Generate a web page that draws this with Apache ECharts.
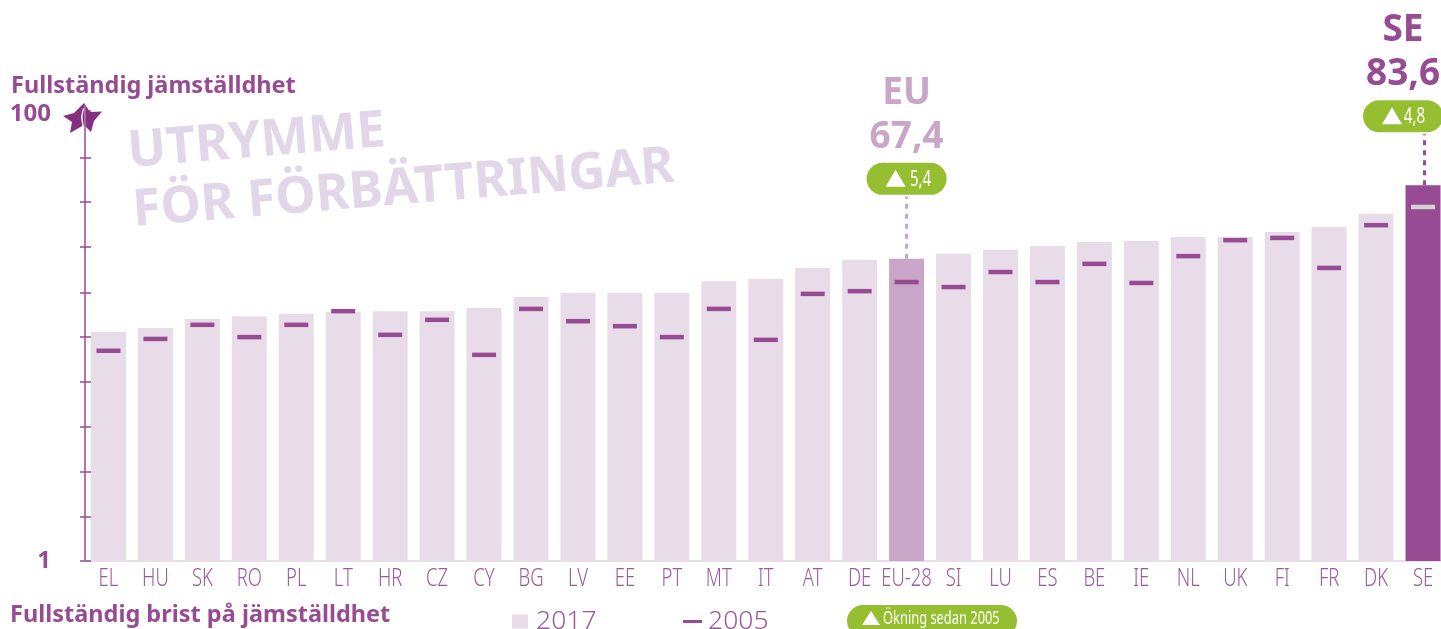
<!DOCTYPE html>
<html><head><meta charset="utf-8">
<style>html,body{margin:0;padding:0;background:#fff;overflow:hidden;width:1441px;height:629px}#c{width:1447px;height:629px}</style>
<script src="https://cdn.jsdelivr.net/npm/echarts@6/dist/echarts.min.js"></script>
</head><body><div id="c"></div>
<script>
const categories = ['EL','HU','SK','RO','PL','LT','HR','CZ','CY','BG','LV','EE','PT','MT','IT','AT','DE','EU-28','SI','LU','ES','BE','IE','NL','UK','FI','FR','DK','SE'];
const values2017 = [51.3,52.2,54.2,54.8,55.3,55.7,55.9,55.9,56.6,59.0,59.9,59.9,59.9,62.5,63.0,65.4,67.2,67.4,68.5,69.4,70.2,71.1,71.3,72.2,72.2,73.3,74.4,77.3,83.6];
const values2005 = [47.2,49.8,52.9,50.2,52.9,55.9,50.7,54.0,46.3,56.4,53.7,52.6,50.2,56.4,49.6,59.7,60.3,62.3,61.2,64.5,62.3,66.3,62.1,68.0,71.5,72.0,65.4,74.8,78.8];
const callouts = [['EU-28',67.4,'EU','67,4','5,4'],['SE',83.6,'SE','83,6','4,8']];
const yTickValues = [1,10.7,20.6,30.4,40.3,50.3,60.05,70.1,80,89.6,100];
const yLabelValues = [1,100];

const DARK='#964b92', MID='#c9a5c7', LIGHT='#e9dce9', GREEN='#95bf30', TXT='#9a5a9a', WM='#e2d6e9';
const SANS='"Noto Sans"';
const calloutLayout = {
  'EU': {color:MID, dx:0,   pill:-80, title:-165, value:-121, lineX:0,   txt:14},
  'SE': {color:DARK,dx:-20, pill:-69, title:-155, value:-111, lineX:1.5, txt:11.5}
};
function renderCallout(params, api){
  const p = api.coord([api.value(0), api.value(1)]);
  const d = callouts[params.dataIndex];
  const L = calloutLayout[d[2]];
  const cx = p[0]+L.dx, py = p[1]+L.pill;
  return {type:'group',silent:true,children:[
    {type:'line',shape:{x1:p[0]+L.lineX,y1:p[1],x2:p[0]+L.lineX,y2:py+18},style:{stroke:L.color,lineWidth:3,lineDash:[5,5]}},
    {type:'rect',shape:{x:cx-40,y:py-16,width:80,height:32,r:16},style:{fill:GREEN}},
    {type:'polygon',shape:{points:[[cx-21,py+8],[cx-1,py+8],[cx-11,py-9]]},style:{fill:'#fff'}},
    {type:'text',x:cx+L.txt,y:py+1,scaleX:0.72,style:{text:d[4],fill:'#fff',font:'400 21px '+SANS,align:'center',verticalAlign:'middle'}},
    {type:'text',style:{x:cx,y:p[1]+L.title,text:d[2],fill:L.color,font:'bold 37px '+SANS,align:'center',verticalAlign:'middle'}},
    {type:'text',style:{x:cx,y:p[1]+L.value,text:d[3],fill:L.color,font:'bold 37px '+SANS,align:'center',verticalAlign:'middle'}}
  ]};
}
function renderCatLabel(params, api){
  const p = api.coord([api.value(0), 1]);
  return {type:'text',silent:true,x:p[0],y:p[1]+18,scaleX:0.71,
    style:{text:categories[params.dataIndex],fill:TXT,font:'300 26px '+SANS,align:'center',verticalAlign:'middle'}};
}
const barData = values2017.map((v,i)=>{
  const n=categories[i];
  return n==='EU-28'?{value:v,itemStyle:{color:MID}}:n==='SE'?{value:v,itemStyle:{color:DARK}}:v;
});
const markData = values2005.map((v,i)=>categories[i]==='SE'?{value:v,itemStyle:{color:'#d2d2d2'}}:v);

const chart = echarts.init(document.getElementById('c'),null,{renderer:'canvas'});
chart.setOption({
  animation:false,
  backgroundColor:'#fff',
  grid:{left:85,right:0.5,top:110.5,bottom:68,containLabel:false},
  xAxis:{type:'category',data:categories,
    axisLine:{show:true,lineStyle:{color:'#e6dfe6',width:2}},axisTick:{show:false},
    axisLabel:{show:false}},
  yAxis:[
    {type:'value',position:'left',min:1,max:100,splitLine:{show:false},
     axisLine:{show:true,onZero:false,lineStyle:{color:DARK,width:1.5}},
     axisTick:{show:true,customValues:yTickValues,length:5,lineStyle:{color:DARK,width:1.5}},
     axisLabel:{show:true,customValues:yLabelValues,color:DARK,fontFamily:SANS,fontWeight:'bold',fontSize:24,margin:34,
       formatter:v=>v===100?'{t|100}':'{b|'+v+'}',
       rich:{t:{color:DARK,fontFamily:SANS,fontWeight:'bold',fontSize:24,padding:[7,0,0,0]},
             b:{color:DARK,fontFamily:SANS,fontWeight:'bold',fontSize:24}}}},
    {type:'value',position:'left',min:1,max:100,splitLine:{show:false},
     axisLine:{show:false},
     axisTick:{show:true,inside:true,customValues:yTickValues,length:6,lineStyle:{color:DARK,width:1.5}},
     axisLabel:{show:false}}
  ],
  legend:[
    {data:['2017'],left:507,top:603,icon:'rect',itemWidth:16,itemHeight:14,itemGap:8,
     textStyle:{color:TXT,fontFamily:SANS,fontWeight:300,fontSize:26.5,padding:[0,0,0,3]}},
    {data:['2005'],left:678,top:603,icon:'rect',itemWidth:19,itemHeight:3,itemGap:6,
     textStyle:{color:TXT,fontFamily:SANS,fontWeight:300,fontSize:26.5,padding:[0,0,0,1]}}
  ],
  series:[
    {name:'2017',type:'bar',data:barData,barWidth:35,itemStyle:{color:LIGHT},silent:true},
    {name:'2005',type:'scatter',data:markData,symbol:'rect',symbolSize:[24,4.5],itemStyle:{color:DARK,opacity:1},z:5,silent:true},
    {name:'callout',type:'custom',data:callouts.map(c=>[c[0],c[1]]),encode:{x:0,y:1},renderItem:renderCallout,clip:false,z:6,silent:true},
    {name:'labels',type:'custom',data:categories.map(c=>[c,1]),encode:{x:0,y:1},renderItem:renderCatLabel,clip:false,z:6,silent:true}
  ],
  graphic:[
    {type:'text',left:11,top:74,style:{text:'Fullständig jämställdhet',fill:DARK,font:'bold 23.5px '+SANS}},
    {type:'text',left:10,top:603,style:{text:'Fullständig brist på jämställdhet',fill:DARK,font:'bold 23.5px '+SANS}},
    {type:'text',x:130,y:178,rotation:4.7*Math.PI/180,style:{text:'UTRYMME',fill:WM,font:'bold 51px '+SANS,verticalAlign:'bottom'}},
    {type:'text',x:135,y:237,rotation:4.7*Math.PI/180,style:{text:'FÖR FÖRBÄTTRINGAR',fill:WM,font:'bold 51px '+SANS,verticalAlign:'bottom'}},
    {type:'polygon',z:20,shape:{points:[[84,103],[90,112],[102,111.5],[94,121],[91,132],[84,125],[70,133],[72,122],[63,116],[74,113]]},style:{fill:'#85307f'}},
    {type:'polygon',z:21,shape:{points:[[83,108],[81,117],[83,130],[84,130],[82.5,117],[84,108]]},style:{fill:'#fff'}},
    {type:'line',z:21,shape:{x1:85,y1:105,x2:85,y2:130},style:{stroke:'#b57ab0',lineWidth:1.5}},
    {type:'rect',z:20,shape:{x:847,y:605,width:170,height:32,r:16},style:{fill:GREEN}},
    {type:'polygon',z:21,shape:{points:[[862,625],[880,625],[871,611]]},style:{fill:'#fff'}},
    {type:'text',z:21,x:883,y:619,scaleX:0.715,style:{text:'Ökning sedan 2005',fill:'#fff',font:'400 18px '+SANS,verticalAlign:'middle'}}
  ]
});
</script></body></html>
